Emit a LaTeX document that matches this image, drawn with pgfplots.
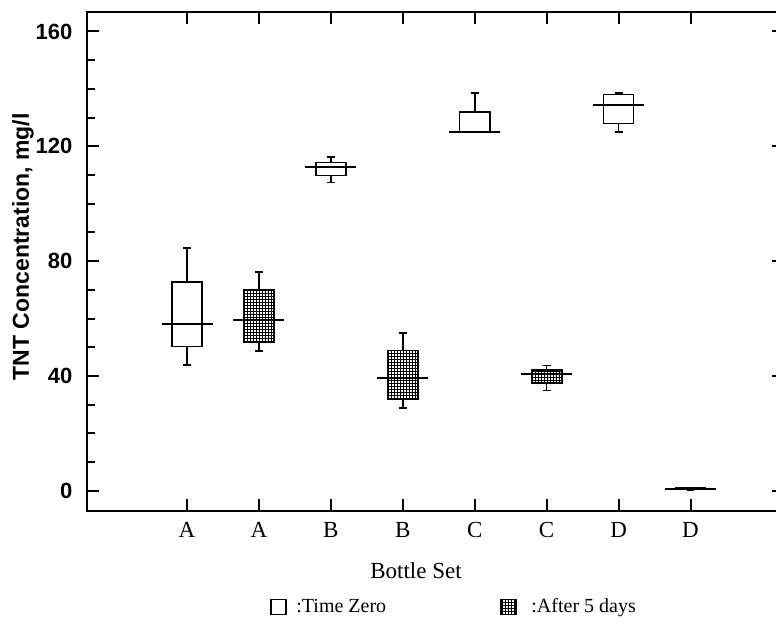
\documentclass[border=0pt]{standalone}
\usepackage{fontspec}
\setmainfont{Liberation Serif}
\setsansfont{Liberation Sans}
\usepackage{pgfplots}
\pgfplotsset{compat=1.18}
\usepgfplotslibrary{statistics}
\usetikzlibrary{patterns.meta}

% fine dark grid used to shade the day-5 boxes
\tikzdeclarepattern{
  name=boxgrid,
  type=uncolored,
  bottom left={(-0.1pt,-0.1pt)},
  top right={(1.6pt,1.6pt)},
  tile size={(1.5pt,1.5pt)},
  code={
    \pgfsetlinewidth{0.65pt}
    \pgfpathmoveto{\pgfqpoint{-0.05pt}{0.75pt}}
    \pgfpathlineto{\pgfqpoint{1.55pt}{0.75pt}}
    \pgfpathmoveto{\pgfqpoint{0.75pt}{-0.05pt}}
    \pgfpathlineto{\pgfqpoint{0.75pt}{1.55pt}}
    \pgfusepath{stroke}
  }
}

\begin{document}
\begin{tikzpicture}
\begin{axis}[
  name=ax,
  scale only axis,
  width=348.5pt, height=249.25pt,
  xmin=-0.391, xmax=9.30,
  ymin=-7, ymax=166.6,
  xtick={1,...,8},
  xticklabels={A,A,B,B,C,C,D,D},
  ytick={0,40,...,160},
  minor y tick num=3,
  tick align=inside,
  major tick length=6pt,
  minor tick length=4pt,
  axis line style={line width=1pt},
  tick style={black, line width=1pt},
  /pgf/number format/assume math mode=true,
  yticklabel style={font=\sffamily\bfseries\fontsize{11}{13}\selectfont, xshift=-3.8pt},
  xticklabel style={font=\fontsize{11.5}{13}\selectfont, yshift=-2.2pt},
  xlabel={Bottle Set},
  xlabel style={at={(axis description cs:0.472,-0.120)}, anchor=center,
                font=\fontsize{11.5}{13}\selectfont},
  ylabel={TNT Concentration, mg/l},
  ylabel style={at={(axis description cs:-0.092,0.53)}, anchor=center,
                font=\sffamily\bfseries\fontsize{11.5}{13}\selectfont},
  boxplot/draw direction=y,
  boxplot/box extend=0.42,
  boxplot/whisker extend=0.11,
  boxplot/every median/.style={line width=0.9pt},
  boxplot/draw/median/.code={
    \draw[/pgfplots/boxplot/every median/.try]
      (boxplot box cs:\pgfplotsboxplotvalue{median},-0.345) --
      (boxplot box cs:\pgfplotsboxplotvalue{median},1.345);
  },
  legend style={at={(axis description cs:0.528,-0.193)}, anchor=center,
                draw=none, fill=none, font=\fontsize{10}{12}\selectfont,
                /tikz/every even column/.append style={column sep=55pt}},
  legend columns=2,
  legend cell align=left,
]

% Time zero
\addplot[forget plot, black, line width=0.8pt, boxplot prepared={draw position=1,
  lower whisker=43.8, lower quartile=50.3, median=58.2, upper quartile=72.7, upper whisker=84.6}]
  coordinates {};
\addplot[forget plot, black, line width=0.8pt, boxplot prepared={draw position=3,
  lower whisker=107.4, lower quartile=109.9, median=112.7, upper quartile=114.3, upper whisker=116.2}]
  coordinates {};
\addplot[forget plot, black, line width=0.8pt, boxplot prepared={draw position=5,
  lower whisker=124.9, lower quartile=124.9, median=125.0, upper quartile=132.0, upper whisker=138.6}]
  coordinates {};
\addplot[forget plot, black, line width=0.8pt, boxplot prepared={draw position=7,
  lower whisker=124.9, lower quartile=128.0, median=134.5, upper quartile=138.0, upper whisker=138.6}]
  coordinates {};

% After 5 days
\addplot[forget plot, black, line width=0.8pt,
  boxplot/every box/.style={pattern=boxgrid, pattern color=black},
  boxplot prepared={draw position=2,
  lower whisker=48.7, lower quartile=51.8, median=59.4, upper quartile=70.1, upper whisker=76.2}]
  coordinates {};
\addplot[forget plot, black, line width=0.8pt,
  boxplot/every box/.style={pattern=boxgrid, pattern color=black},
  boxplot prepared={draw position=4,
  lower whisker=28.8, lower quartile=32.0, median=39.4, upper quartile=48.9, upper whisker=55.0}]
  coordinates {};
\addplot[forget plot, black, line width=0.8pt,
  boxplot/every box/.style={pattern=boxgrid, pattern color=black},
  boxplot prepared={draw position=6,
  lower whisker=34.9, lower quartile=37.5, median=40.7, upper quartile=42.2, upper whisker=43.7}]
  coordinates {};
\addplot[forget plot, black, line width=0.8pt,
  boxplot/every box/.style={pattern=boxgrid, pattern color=black},
  boxplot prepared={draw position=8,
  lower whisker=0.4, lower quartile=0.5, median=0.7, upper quartile=0.9, upper whisker=1.0}]
  coordinates {};

\addlegendimage{legend image code/.code={
  \draw[black, line width=0.8pt, fill=white] (0pt,-3.75pt) rectangle (7.5pt,3.75pt);
  \path (10.5pt,0pt);}}
\addlegendentry{:Time Zero}
\addlegendimage{legend image code/.code={
  \draw[black, line width=0.8pt, pattern=boxgrid, pattern color=black] (0pt,-3.75pt) rectangle (7.5pt,3.75pt);
  \path (13pt,0pt);}}
\addlegendentry{:After 5 days}
\end{axis}
\pgfresetboundingbox
\path ([xshift=-43.5pt,yshift=-57pt]ax.south west) rectangle ([xshift=-4pt,yshift=6.25pt]ax.north east);
\end{tikzpicture}
\end{document}
